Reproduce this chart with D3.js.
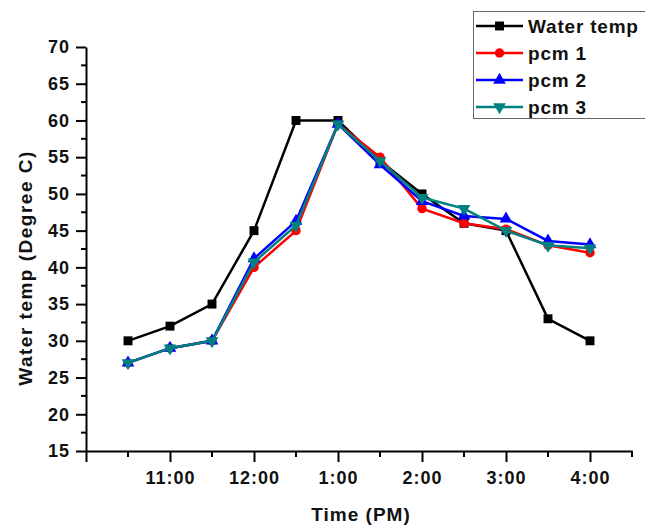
<!DOCTYPE html>
<html>
<head>
<meta charset="utf-8">
<script src="https://cdn.jsdelivr.net/npm/d3@7"></script>
<style>
  html, body { margin: 0; padding: 0; background: #fff; }
  svg { display: block; }
  text { font-family: "Liberation Sans", Arial, sans-serif; font-weight: bold; fill: #111; }
</style>
</head>
<body>
<svg id="chart" width="645" height="526"></svg>
<script>
// ---- data ----
const times = [10.5, 11, 11.5, 12, 12.5, 13, 13.5, 14, 14.5, 15, 15.5, 16];
const waterTemp = [30, 32, 35, 45, 60, 60, 54.5, 50, 46, 45, 33, 30];
const pcm1 = [27, 29, 30, 40, 45, 59.5, 55, 48, 46, 45.2, 43, 42];
const pcm2 = [27, 29, 30, 41.2, 46.3, 59.5, 54, 49, 47, 46.6, 43.6, 43.1];
const pcm3 = [27, 29, 30, 40.7, 45.7, 59.5, 54.5, 49.5, 48, 45, 43, 42.6];
const xTickValues = [10, 11, 12, 13, 14, 15, 16];
const xTickLabels = ["", "11:00", "12:00", "1:00", "2:00", "3:00", "4:00"];
const yTickValues = [15, 20, 25, 30, 35, 40, 45, 50, 55, 60, 65, 70];
const seriesNames = ["Water temp", "pcm 1", "pcm 2", "pcm 3"];
const seriesColors = ["#000000", "#ff0000", "#0000ff", "#008080"];
const seriesSymbols = ["square", "circle", "triangleUp", "triangleDown"];
const seriesValues = [waterTemp, pcm1, pcm2, pcm3];

// ---- layout ----
const svg = d3.select("#chart");
const plotL = 86, plotR = 632, plotT = 47, plotB = 451;

const x = d3.scaleLinear().domain([10, 16.5]).range([plotL, plotR]);
const y = d3.scaleLinear().domain([15, 70]).range([plotB, plotT]);

// minor ticks
const gMinor = svg.append("g");
d3.range(10.5, 16.6, 1).forEach(t => {
  gMinor.append("line").attr("x1", x(t)).attr("x2", x(t))
    .attr("y1", plotB).attr("y2", plotB + 6)
    .attr("stroke", "#000").attr("stroke-width", 2);
});
d3.range(17.5, 70, 5).forEach(v => {
  gMinor.append("line").attr("x1", plotL).attr("x2", plotL - 5)
    .attr("y1", y(v)).attr("y2", y(v))
    .attr("stroke", "#000").attr("stroke-width", 2);
});

// x axis
const xAxis = d3.axisBottom(x)
  .tickValues(xTickValues)
  .tickFormat((d, i) => xTickLabels[i])
  .tickSizeInner(11).tickSizeOuter(0).tickPadding(9);
const gx = svg.append("g").attr("transform", `translate(0,${plotB})`).call(xAxis);
gx.select(".domain").attr("stroke", "#000").attr("stroke-width", 2);
gx.selectAll(".tick line").attr("stroke", "#000").attr("stroke-width", 2);
gx.selectAll(".tick text").style("font-size", "18px").style("letter-spacing", "1px")
  .attr("fill", "#111").style("font-family", "'Liberation Sans', Arial, sans-serif").style("font-weight", "bold");

// y axis
const yAxis = d3.axisLeft(y)
  .tickValues(yTickValues)
  .tickSizeInner(10).tickSizeOuter(0).tickPadding(6);
const gy = svg.append("g").attr("transform", `translate(${plotL},0)`).call(yAxis);
gy.select(".domain").attr("stroke", "#000").attr("stroke-width", 2);
gy.selectAll(".tick line").attr("stroke", "#000").attr("stroke-width", 2);
gy.selectAll(".tick text").style("font-size", "18px").style("letter-spacing", "1px")
  .attr("fill", "#111").style("font-family", "'Liberation Sans', Arial, sans-serif").style("font-weight", "bold");

// axis titles
svg.append("text").attr("x", 361).attr("y", 521).attr("text-anchor", "middle")
  .style("font-size", "19px").style("letter-spacing", "1px").text("Time (PM)");
svg.append("text").attr("transform", "translate(32,268) rotate(-90)").attr("text-anchor", "middle")
  .style("font-size", "19px").style("letter-spacing", "1.5px").text("Water temp (Degree C)");

// symbols
const symbolMap = {
  square: d3.symbol().type(d3.symbolSquare).size(80),
  circle: d3.symbol().type(d3.symbolCircle).size(70),
  triangleUp: d3.symbol().type(d3.symbolTriangle).size(70),
  triangleDown: d3.symbol().type(d3.symbolTriangle).size(70)
};
function drawSymbol(g, kind, cx, cy, color) {
  const rot = kind === "triangleDown" ? 180 : 0;
  g.append("path").attr("d", symbolMap[kind]())
    .attr("transform", `translate(${cx},${cy}) rotate(${rot})`)
    .attr("fill", color);
}

// series
const line = d3.line().x((d, i) => x(times[i])).y(d => y(d));
seriesValues.forEach((vals, s) => {
  const g = svg.append("g");
  g.append("path").datum(vals).attr("d", line)
    .attr("fill", "none").attr("stroke", seriesColors[s]).attr("stroke-width", 2.5);
  vals.forEach((v, i) => drawSymbol(g, seriesSymbols[s], x(times[i]), y(v), seriesColors[s]));
});

// legend
const lg = svg.append("g");
lg.append("rect").attr("x", 473.5).attr("y", 11.5).attr("width", 190).attr("height", 107)
  .attr("fill", "#fff").attr("stroke", "#666").attr("stroke-width", 1);
const rowY = [26, 53, 80, 107];
seriesNames.forEach((name, s) => {
  lg.append("line").attr("x1", 476).attr("x2", 523).attr("y1", rowY[s]).attr("y2", rowY[s])
    .attr("stroke", seriesColors[s]).attr("stroke-width", 2.5);
  drawSymbol(lg, seriesSymbols[s], 499.5, rowY[s], seriesColors[s]);
  lg.append("text").attr("x", 528).attr("y", rowY[s] + 7)
    .style("font-size", "19px").style("letter-spacing", "0.8px").text(name);
});
</script>
</body>
</html>
